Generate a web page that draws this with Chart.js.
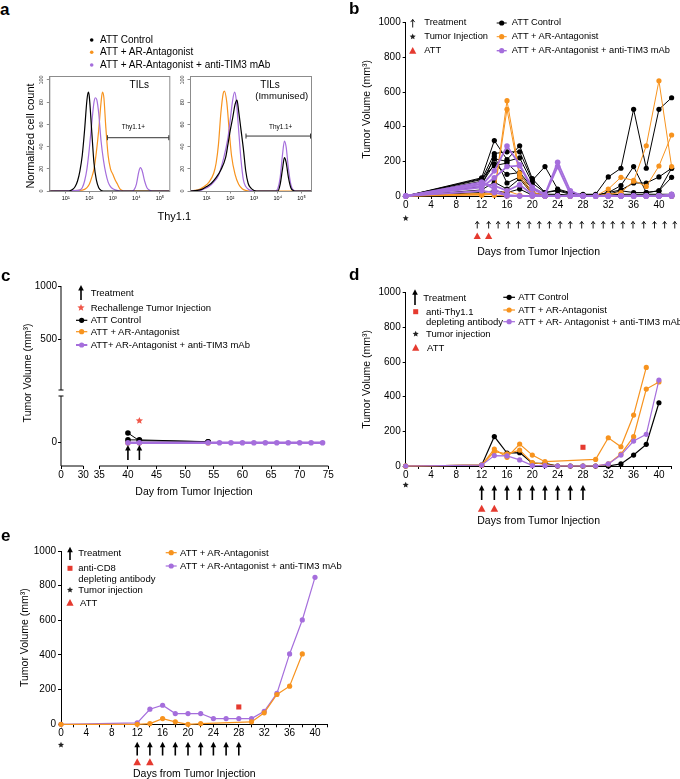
<!DOCTYPE html>
<html>
<head>
<meta charset="utf-8">
<script src="https://cdn.jsdelivr.net/npm/chart.js@4.4.1/dist/chart.umd.min.js"></script>
<style>
html, body { margin: 0; padding: 0; background: #fff; }
#fig { position: relative; width: 680px; height: 779px; overflow: hidden; font-family: "Liberation Sans", Arial, sans-serif; color: #000; }
#fig canvas { position: absolute; }
.t { position: absolute; white-space: nowrap; line-height: 1; }
</style>
</head>
<body>
<div id="fig"></div>
<script>
// ---------- data ----------
// a : Thy1.1 histograms, [log10 intensity, % of max]
const tilsControl = [[0.3,0],[1.1,0],[1.2,0.5],[1.3,1.5],[1.4,4],[1.5,9],[1.6,18],[1.7,32],[1.8,55],[1.9,82],[1.96,89],[2.0,85],[2.1,55],[2.2,25],[2.3,10],[2.4,3],[2.5,0.5],[2.6,0],[5.4,0]];
const tilsAntagonist = [[0.3,0],[1.6,0.5],[1.8,1.5],[1.9,3],[2.0,6],[2.1,12],[2.2,20],[2.3,35],[2.4,55],[2.5,80],[2.56,89],[2.62,84],[2.7,58],[2.8,32],[2.9,20],[3.0,15],[3.1,10],[3.2,6],[3.3,2],[3.4,0.5],[3.5,0],[5.4,0]];
const tilsTim3 = [[0.3,0],[1.5,0.5],[1.6,1],[1.7,3],[1.8,9],[1.9,20],[2.0,38],[2.1,60],[2.2,80],[2.26,84],[2.32,82],[2.4,70],[2.5,45],[2.6,28],[2.7,16],[2.8,8],[2.9,4],[3.0,2],[3.1,1],[3.3,0],[3.8,0],[3.9,1],[4.0,6],[4.1,17],[4.17,21],[4.25,18],[4.35,9],[4.45,3],[4.55,1],[4.7,0],[5.4,0]];
const immControl = [[0.3,0],[0.6,0.5],[0.8,1.5],[1.0,4],[1.2,7],[1.4,12],[1.6,19],[1.8,30],[1.9,42],[2.0,55],[2.1,66],[2.2,78],[2.28,82],[2.35,72],[2.45,55],[2.55,38],[2.65,18],[2.75,7],[2.85,3],[3.0,0.5],[3.1,0],[4.0,0],[4.1,6],[4.2,20],[4.28,30],[4.35,26],[4.45,12],[4.55,3],[4.65,0.5],[4.8,0],[5.4,0]];
const immAntagonist = [[0.3,0],[0.5,0.5],[0.7,1.5],[0.9,4],[1.1,8],[1.3,16],[1.4,25],[1.5,42],[1.6,70],[1.7,88],[1.75,90],[1.85,80],[1.95,55],[2.05,32],[2.2,15],[2.35,6],[2.5,2],[2.65,0.5],[2.8,0],[5.4,0]];
const immTim3 = [[0.3,0],[0.7,0.5],[0.9,2],[1.1,4],[1.3,8],[1.5,14],[1.7,28],[1.9,48],[2.0,65],[2.1,82],[2.18,89],[2.25,82],[2.35,55],[2.45,28],[2.55,10],[2.65,4],[2.8,1],[3.0,0],[3.9,0],[4.0,2],[4.1,12],[4.2,33],[4.28,45],[4.35,40],[4.45,20],[4.55,6],[4.65,1],[4.8,0],[5.4,0]];
const gateTils = [2.77, 5.4, 48];   // from, to, height
const gateImm = [2.66, 5.4, 49.5];
const histXTicks = [1, 2, 3, 4, 5];
const histYTicks = [0, 20, 40, 60, 80, 100];

// b : individual mice
const daysB = [0,12,14,16,18,20,22,24,26,28,30,32,34,36,38,40,42];
const bControl = [
  [0,105,320,210,290,100,20,35,15,10,10,110,160,500,160,500,567],
  [0,95,245,255,255,90,170,40,20,5,5,20,60,170,20,30,160],
  [0,85,215,200,220,75,20,30,10,5,5,20,35,75,75,110,160],
  [0,70,185,125,135,50,10,10,5,0,0,10,30,20,20,30,108],
  [0,55,230,75,110,20,5,5,0,0,0,5,10,10,10,10,10],
  [0,100,175,190,120,45,5,0,0,0,0,0,0,0,0,0,0],
  [0,35,80,40,100,10,0,0,0,0,0,0,0,0,0,0,0],
  [0,20,30,20,40,5,0,0,0,0,0,0,0,0,0,0,0]
];
const bAntagonist = [
  [0,10,15,550,130,20,5,0,0,0,0,10,20,85,290,665,170],
  [0,10,15,500,110,10,0,0,0,0,0,40,108,90,55,173,352],
  [0,5,10,30,5,0,0,0,0,0,0,0,0,0,0,0,0],
  [0,15,5,0,0,0,0,0,0,0,0,0,0,0,0,0,0]
];
const bTim3 = [
  [0,60,145,288,180,50,10,195,30,0,0,0,0,0,0,0,10],
  [0,50,105,170,175,40,5,170,10,0,0,0,0,0,0,0,5],
  [0,70,60,30,65,10,0,0,0,0,0,0,0,0,0,0,0],
  [0,30,20,5,0,0,0,0,0,0,0,0,0,0,0,0,0],
  [0,80,40,0,0,0,0,0,0,0,0,0,0,0,0,0,0]
];
const bTreatment = [11.3,13.1,14.6,16.2,17.8,19.5,21.1,22.7,24.4,26,27.8,29.6,31.2,32.7,34.3,35.9,37.6,39.3,40.9,42.5];
const bATT = [11.3, 13.1];

// c : rechallenge
const cControl = [[[40,9.7],[42,2],[54,1]], [[40,2.8],[42,2.8],[54,1]]];
const cAntagonist = [[40,0],[42,0],[54,0]];
const cTim3Days = [40,42,54,56,58,60,62,64,66,68,70,72,74];
const cTim3 = [0,0,0,0,0,0,0,0,0,0,0,0,0];
const cTreatment = [40, 42];
const cRechallenge = [[42, 22]];
const cDayTicksLow = [0, 30];
const cDayTicksHigh = [35,40,45,50,55,60,65,70,75];
const cVolTicksLow = [0];
const cVolTicksHigh = [500, 1000];

// d : anti-Thy1.1 depletion
const daysD = [0,12,14,16,18,20,22,24,26,28,30,32,34,36,38,40];
const dControl = [0,5,170,75,77,17,15,0,0,0,0,0,12,63,125,365];
const dAntagonist = [
  [0,5,98,50,127,63,25,null,null,null,38,163,111,294,569,null],
  [0,5,83,70,92,19,10,0,0,0,0,12,69,169,444,485]
];
const dTim3 = [0,5,60,58,35,2,2,0,0,0,0,12,63,144,183,496];
const dDepletion = [[28, 108]];
const dTreatment = [12,14,16,18,20,22,24,26,28];
const dATT = [12, 14];

// e : anti-CD8 depletion
const daysE = [0,12,14,16,18,20,22,24,26,28,30,32,34,36,38,40];
const eAntagonist = [0,0,4,33,14,0,4,null,null,null,14,66,172,220,406,null];
const eTim3 = [0,8,87,110,62,62,62,33,33,33,33,75,178,406,602,848];
const eDepletion = [[28, 100]];
const eTreatment = [12,14,16,18,20,22,24,26,28];
const eATT = [12, 14];

const dayTicks = [0,2,4,6,8,10,12,14,16,18,20,22,24,26,28,30,32,34,36,38,40,42];
const volTicks = [0,200,400,600,800,1000];

// ---------- helpers ----------
const BLACK = '#000', ORANGE = '#f7931e', PURPLE = '#a56edc', RED = '#e53a2f';
const fig = document.getElementById('fig');
Chart.defaults.font.family = '"Liberation Sans", Arial, sans-serif';
Chart.defaults.color = '#000';

const pts = (days, vals) => vals.map((v, i) => ({ x: days[i], y: v })).filter(p => p.y != null);
const pairs = arr => arr.map(p => ({ x: p[0], y: p[1] }));

function canvasAt(L, T, W, H) {
  const c = document.createElement('canvas');
  c.width = W; c.height = H;
  c.style.left = L + 'px'; c.style.top = T + 'px';
  c.style.width = W + 'px'; c.style.height = H + 'px';
  fig.appendChild(c);
  return c;
}

function text(s, x, y, size, o = {}) {
  const d = document.createElement('div');
  d.className = 't';
  d.textContent = s;
  d.style.left = x + 'px';
  d.style.top = y + 'px';
  d.style.fontSize = size + 'px';
  if (o.bold) d.style.fontWeight = 'bold';
  d.style.transform = o.rotate ? 'translate(-50%,-50%) rotate(-90deg)' : (o.center ? 'translate(-50%,-50%)' : 'translate(0,-50%)');
  fig.appendChild(d);
}

function ds(data, color, o = {}) {
  return {
    data, borderColor: color, backgroundColor: color,
    pointBackgroundColor: color, pointBorderColor: color, pointBorderWidth: 0,
    borderWidth: o.lw || 1, pointRadius: o.r ?? 2.6, pointStyle: o.style || 'circle',
    showLine: o.line !== false, tension: o.smooth ? 0.4 : 0,
    cubicInterpolationMode: o.smooth ? 'monotone' : 'default',
    clip: false, fill: false, xAxisID: o.x || 'x', yAxisID: o.y || 'y'
  };
}

function axis(o) {
  return {
    type: 'linear', position: o.pos, min: o.min, max: o.max,
    stack: o.stack, stackWeight: o.weight,
    border: { display: o.border !== false, color: o.color || '#000', width: 1 },
    grid: { drawOnChartArea: false, drawTicks: true, tickLength: o.tickLen ?? 3, color: o.color || '#000', lineWidth: 1 },
    ticks: { display: o.showLabels !== false, font: { size: o.font || 10 }, padding: o.pad ?? 1, color: '#000', autoSkip: false, maxRotation: 0,
             callback: o.label || (v => v) },
    afterBuildTicks: s => { s.ticks = o.ticks.map(v => ({ value: v })); },
    afterFit: s => { if (o.width != null) s.width = o.width; if (o.height != null) s.height = o.height; },
    title: o.title ? { display: true, text: o.title, color: '#000', font: { size: 10.5 }, padding: o.titlePad || { top: 0, bottom: 0 } } : { display: false }
  };
}

function makeChart(box, area, datasets, scales, draw) {
  const [L, T, W, H] = box;
  const cv = canvasAt(L, T, W, H);
  return new Chart(cv, {
    type: 'line',
    data: { datasets },
    options: {
      responsive: false, animation: false, events: [],
      layout: { padding: { left: 0, top: area[1] - T, right: L + W - area[2], bottom: 0 } },
      plugins: { legend: { display: false }, tooltip: { enabled: false } },
      scales
    },
    plugins: [{
      id: 'marks',
      afterDraw(chart) {
        const ctx = chart.ctx;
        ctx.save();
        ctx.translate(-L, -T);   // draw in page coordinates
        const px = (id, v) => chart.scales[id].getPixelForValue(v) + (chart.scales[id].isHorizontal() ? L : T);
        const ca = chart.chartArea;
        draw(ctx, px, { left: ca.left + L, top: ca.top + T, right: ca.right + L, bottom: ca.bottom + T });
        ctx.restore();
      }
    }]
  });
}

// symbols
function star(ctx, x, y, r, color) {
  ctx.beginPath();
  for (let i = 0; i < 10; i++) {
    const a = -Math.PI / 2 + i * Math.PI / 5;
    const rr = i % 2 ? r * 0.45 : r;
    ctx.lineTo(x + rr * Math.cos(a), y + rr * Math.sin(a));
  }
  ctx.closePath();
  ctx.fillStyle = color;
  ctx.fill();
}
function tri(ctx, x, y, s, color) {
  ctx.beginPath();
  ctx.moveTo(x, y - s);
  ctx.lineTo(x + s, y + s * 0.85);
  ctx.lineTo(x - s, y + s * 0.85);
  ctx.closePath();
  ctx.fillStyle = color;
  ctx.fill();
}
function square(ctx, x, y, s, color) {
  ctx.fillStyle = color;
  ctx.fillRect(x - s / 2, y - s / 2, s, s);
}
function thinArrow(ctx, x, tip, tail) {
  ctx.strokeStyle = '#000';
  ctx.lineWidth = 0.9;
  ctx.beginPath();
  ctx.moveTo(x, tail); ctx.lineTo(x, tip);
  ctx.moveTo(x - 2, tip + 2.6); ctx.lineTo(x, tip); ctx.lineTo(x + 2, tip + 2.6);
  ctx.stroke();
}
function boldArrow(ctx, x, tip, tail) {
  ctx.strokeStyle = '#000';
  ctx.fillStyle = '#000';
  ctx.lineWidth = 1.6;
  ctx.beginPath();
  ctx.moveTo(x, tail); ctx.lineTo(x, tip + 4);
  ctx.stroke();
  ctx.beginPath();
  ctx.moveTo(x, tip); ctx.lineTo(x + 2.8, tip + 5.5); ctx.lineTo(x - 2.8, tip + 5.5);
  ctx.closePath();
  ctx.fill();
}
function lineDot(ctx, x1, x2, y, color, lw) {
  ctx.strokeStyle = color;
  ctx.lineWidth = lw || 1.2;
  ctx.beginPath(); ctx.moveTo(x1, y); ctx.lineTo(x2, y); ctx.stroke();
  ctx.fillStyle = color;
  ctx.beginPath(); ctx.arc((x1 + x2) / 2, y, 2.6, 0, Math.PI * 2); ctx.fill();
}
function dot(ctx, x, y, r, color) {
  ctx.fillStyle = color;
  ctx.beginPath(); ctx.arc(x, y, r, 0, Math.PI * 2); ctx.fill();
}

// ---------- a : histograms ----------
const sup = { 1: '\u00b9', 2: '\u00b2', 3: '\u00b3', 4: '\u2074', 5: '\u2075' };
function histScales(yWidth) {
  return {
    x: axis({ pos: 'bottom', min: 0.3, max: 5.4, ticks: histXTicks, label: v => '10' + sup[v], font: 5.5, pad: 2, tickLen: 2.5, height: 19, color: '#8c8c8c' }),
    y: axis({ pos: 'left', min: 0, max: 103.6, ticks: histYTicks, showLabels: false, tickLen: 2.5, width: yWidth, color: '#8c8c8c' })
  };
}
function histDraw(gate, legend) {
  return (ctx, px, ca) => {
    ctx.strokeStyle = '#8c8c8c';
    ctx.lineWidth = 1;
    ctx.strokeRect(ca.left + 0.5, ca.top + 0.5, ca.right - ca.left, ca.bottom - ca.top);
    // rotated y tick labels, as in the cytometry export
    ctx.fillStyle = '#333';
    ctx.font = '5.5px "Liberation Sans", Arial, sans-serif';
    ctx.textAlign = 'center';
    ctx.textBaseline = 'middle';
    histYTicks.forEach(v => {
      ctx.save();
      ctx.translate(ca.left - 7.5, px('y', v));
      ctx.rotate(-Math.PI / 2);
      ctx.fillText(String(v), 0, 0);
      ctx.restore();
    });
    const y = px('y', gate[2]), x1 = px('x', gate[0]), x2 = px('x', gate[1]) - 0.5;
    ctx.strokeStyle = '#333';
    ctx.beginPath();
    ctx.moveTo(x1, y); ctx.lineTo(x2, y);
    ctx.moveTo(x1, y - 2.5); ctx.lineTo(x1, y + 2.5);
    ctx.moveTo(x2, y - 2.5); ctx.lineTo(x2, y + 2.5);
    ctx.stroke();
    if (legend) {
      dot(ctx, 91.7, 40, 1.8, BLACK);
      dot(ctx, 91.7, 52.3, 1.8, ORANGE);
      dot(ctx, 91.7, 65, 1.8, PURPLE);
    }
  };
}
makeChart([0, 30, 172, 180], [49.3, 76, 169.3, 191], [
  ds(pairs(tilsControl), BLACK, { r: 0, lw: 1.2, smooth: true }),
  ds(pairs(tilsTim3), PURPLE, { r: 0, lw: 1.2, smooth: true }),
  ds(pairs(tilsAntagonist), ORANGE, { r: 0, lw: 1.2, smooth: true })
], histScales(49.3), histDraw(gateTils, true));

makeChart([172, 30, 140, 180], [190, 76, 311, 191], [
  ds(pairs(immControl), BLACK, { r: 0, lw: 1.2, smooth: true }),
  ds(pairs(immTim3), PURPLE, { r: 0, lw: 1.2, smooth: true }),
  ds(pairs(immAntagonist), ORANGE, { r: 0, lw: 1.2, smooth: true })
], histScales(18), histDraw(gateImm, false));

// ---------- b ----------
const dayLabel = v => (v % 4 === 0 && v <= 40 ? v : '');
function growthScales(yWidth, xHeight, yTitlePad) {
  return {
    x: axis({ pos: 'bottom', min: 0, max: 42, ticks: dayTicks, label: dayLabel, height: xHeight, pad: 0,
              title: 'Days from Tumor Injection', titlePad: { top: 0, bottom: 0 } }),
    y: axis({ pos: 'left', min: 0, max: 1000, ticks: volTicks, width: yWidth, pad: 2,
              title: 'Tumor Volume (mm\u00b3)', titlePad: { top: yTitlePad, bottom: 0 } })
  };
}
const bSets = [
  ...bTim3.map(m => ds(pts(daysB, m), PURPLE, { lw: 1.8, r: 2.8 })),
  ...bAntagonist.map(m => ds(pts(daysB, m), ORANGE, { r: 2.6 })),
  ...bControl.map(m => ds(pts(daysB, m), BLACK, { r: 2.6 }))
];
makeChart([340, 0, 340, 258], [405.7, 22.7, 671.6, 196], bSets, growthScales(65.7, 62, 20.4), (ctx, px) => {
  star(ctx, px('x', 0), 218.3, 3.2, '#222');
  bTreatment.forEach(d => thinArrow(ctx, px('x', d), 221.5, 228.5));
  bATT.forEach(d => tri(ctx, px('x', d), 236, 3.6, RED));
  thinArrow(ctx, 412.7, 19.5, 27.5);
  star(ctx, 412.7, 36.7, 3.2, '#222');
  tri(ctx, 412.7, 50.7, 3.6, RED);
  lineDot(ctx, 496.7, 506.7, 23, BLACK, 1);
  lineDot(ctx, 496.7, 506.7, 36.7, ORANGE, 1);
  lineDot(ctx, 496.7, 506.7, 50.7, PURPLE, 1.4);
});

// ---------- c : broken axes ----------
const cSets = [
  ds(pts(cTim3Days, cTim3), PURPLE, { lw: 2.6, r: 2.8, x: 'xb', y: 'ya' }),
  ...cControl.map(m => ds(pairs(m), BLACK, { lw: 1, r: 2.8, x: 'xb', y: 'ya' })),
  ds(pairs(cAntagonist), ORANGE, { r: 2.8, x: 'xb', y: 'ya' })
];
makeChart([0, 270, 340, 215], [61, 286, 328.3, 466], cSets, {
  xa: axis({ pos: 'bottom', stack: 'x', weight: 38.3, min: 0, max: 51.5, ticks: cDayTicksLow, border: false, height: 19, pad: 0 }),
  xb: axis({ pos: 'bottom', stack: 'x', weight: 229, min: 35, max: 75, ticks: cDayTicksHigh, border: false, height: 19, pad: 0 }),
  ya: axis({ pos: 'left', stack: 'y', weight: 73, min: -23.3, max: 49.7, ticks: cVolTicksLow, border: false, width: 61, pad: 1 }),
  yb: axis({ pos: 'left', stack: 'y', weight: 107, min: -3, max: 1000, ticks: cVolTicksHigh, border: false, width: 61, pad: 1 })
}, (ctx, px) => {
  const ax = px('xa', 0), y0 = px('ya', -23.3);
  ctx.strokeStyle = '#000';
  ctx.lineWidth = 1;
  ctx.beginPath();
  // y segments with caps
  ctx.moveTo(ax, y0); ctx.lineTo(ax, px('ya', 46.7));
  ctx.moveTo(ax - 2.5, px('ya', 46.7)); ctx.lineTo(ax + 2.5, px('ya', 46.7));
  ctx.moveTo(ax, px('yb', 1000)); ctx.lineTo(ax, px('yb', 25));
  ctx.moveTo(ax - 2.5, px('yb', 25)); ctx.lineTo(ax + 2.5, px('yb', 25));
  // x segments
  ctx.moveTo(ax, y0); ctx.lineTo(px('xa', 30), y0);
  ctx.moveTo(px('xb', 35), y0); ctx.lineTo(px('xb', 75), y0);
  ctx.stroke();
  cTreatment.forEach(d => boldArrow(ctx, px('xb', d), 445, 460));
  cRechallenge.forEach(p => star(ctx, px('xb', p[0]), px('ya', p[1]), 3.8, '#f0584a'));
  boldArrow(ctx, 81, 285, 300);
  star(ctx, 81, 307.7, 3.8, '#f0584a');
  lineDot(ctx, 76, 87.3, 320.3, BLACK, 1.2);
  lineDot(ctx, 76, 87.3, 331.7, ORANGE, 1.2);
  lineDot(ctx, 76, 87.3, 345, PURPLE, 2);
});

// ---------- d ----------
const dSets = [
  ds(dDepletion.map(p => ({ x: p[0], y: p[1] })), RED, { line: false, style: 'rect', r: 3.6 }),
  ds(pts(daysD, dTim3), PURPLE, { lw: 1.2 }),
  ...dAntagonist.map(m => ds(pts(daysD, m), ORANGE, { lw: 1.2 })),
  ds(pts(daysD, dControl), BLACK, { lw: 1.2 })
];
makeChart([340, 280, 340, 247], [405.7, 292.7, 671.6, 466], dSets, growthScales(65.7, 61, 20.4), (ctx, px) => {
  star(ctx, px('x', 0), 485, 3.2, '#222');
  dTreatment.forEach(d => boldArrow(ctx, px('x', d), 485, 500));
  dATT.forEach(d => tri(ctx, px('x', d), 508.5, 3.8, RED));
  boldArrow(ctx, 415, 289.3, 305);
  square(ctx, 415.7, 311.7, 5, RED);
  star(ctx, 415.7, 334, 3.2, '#222');
  tri(ctx, 415.7, 347.7, 3.6, RED);
  lineDot(ctx, 503.3, 515, 297.3, BLACK, 1.2);
  lineDot(ctx, 503.3, 515, 310, ORANGE, 1.2);
  lineDot(ctx, 503.3, 515, 321.7, PURPLE, 1.2);
});

// ---------- e ----------
const eSets = [
  ds(eDepletion.map(p => ({ x: p[0], y: p[1] })), RED, { line: false, style: 'rect', r: 3.6 }),
  ds(pts(daysE, eAntagonist), ORANGE, { lw: 1.2 }),
  ds(pts(daysE, eTim3), PURPLE, { lw: 1.2 })
];
makeChart([0, 535, 340, 245], [61, 551, 327.7, 724.3], eSets, growthScales(61, 55.7, 18.7), (ctx, px) => {
  star(ctx, px('x', 0), 745, 3.2, '#222');
  eTreatment.forEach(d => boldArrow(ctx, px('x', d), 741.7, 755.5));
  eATT.forEach(d => tri(ctx, px('x', d), 762, 3.8, RED));
  boldArrow(ctx, 70, 546.7, 560);
  square(ctx, 70, 568.3, 5, RED);
  star(ctx, 70, 590, 3.2, '#222');
  tri(ctx, 70, 602.7, 3.6, RED);
  lineDot(ctx, 165.7, 176.7, 552.7, ORANGE, 1.2);
  lineDot(ctx, 165.7, 176.7, 566, PURPLE, 1.2);
});

// ---------- text ----------
text('a', 0, 9, 17, { bold: true });
text('b', 349, 8, 17, { bold: true });
text('c', 1, 275, 17, { bold: true });
text('d', 349, 274, 17, { bold: true });
text('e', 1, 535, 17, { bold: true });

// a
text('ATT Control', 100, 40, 10);
text('ATT + AR-Antagonist', 100, 52.3, 10);
text('ATT + AR-Antagonist + anti-TIM3 mAb', 100, 65, 10);
text('TILs', 139.3, 85, 10, { center: true });
text('TILs', 270, 85, 10, { center: true });
text('(Immunised)', 281.7, 95.7, 9.5, { center: true });
text('Thy1.1+', 133.3, 126.7, 6.4, { center: true });
text('Thy1.1+', 280.7, 127, 6.4, { center: true });
text('Normalized cell count', 30, 136, 11, { rotate: true });
text('Thy1.1', 174.3, 216, 11, { center: true });

// b
text('Treatment', 424.3, 23.3, 9.3);
text('Tumor Injection', 424.3, 36.7, 9.3);
text('ATT', 424.3, 50.7, 9.3);
text('ATT Control', 511.7, 23, 9.3);
text('ATT + AR-Antagonist', 511.7, 36.7, 9.3);
text('ATT + AR-Antagonist + anti-TIM3 mAb', 511.7, 50.7, 9.3);

// c
text('Treatment', 90.7, 293.3, 9.5);
text('Rechallenge Tumor Injection', 90.7, 307.7, 9.5);
text('ATT Control', 90.7, 320.3, 9.5);
text('ATT + AR-Antagonist', 90.7, 331.7, 9.5);
text('ATT+ AR-Antagonist + anti-TIM3 mAb', 90.7, 345, 9.5);
text('Tumor Volume (mm\u00b3)', 26.7, 373, 10.5, { rotate: true });
text('Day from Tumor Injection', 194, 490.7, 10.5, { center: true });

// d
text('Treatment', 423.3, 297.7, 9.5);
text('anti-Thy1.1', 426, 311.7, 9.5);
text('depleting antibody', 426, 322.3, 9.5);
text('Tumor injection', 426, 334, 9.5);
text('ATT', 427, 347.7, 9.5);
text('ATT Control', 518.3, 297.3, 9.5);
text('ATT + AR-Antagonist', 518.3, 310, 9.5);
text('ATT + AR- Antagonist + anti-TIM3 mAb', 518.3, 321.7, 9.5);

// e
text('Treatment', 78.3, 553.3, 9.5);
text('anti-CD8', 78.3, 568.3, 9.5);
text('depleting antibody', 78.3, 579, 9.5);
text('Tumor injection', 78.3, 590, 9.5);
text('ATT', 80, 602.7, 9.5);
text('ATT + AR-Antagonist', 180, 552.7, 9.5);
text('ATT + AR-Antagonist + anti-TIM3 mAb', 180, 566, 9.5);
</script>
</body>
</html>
